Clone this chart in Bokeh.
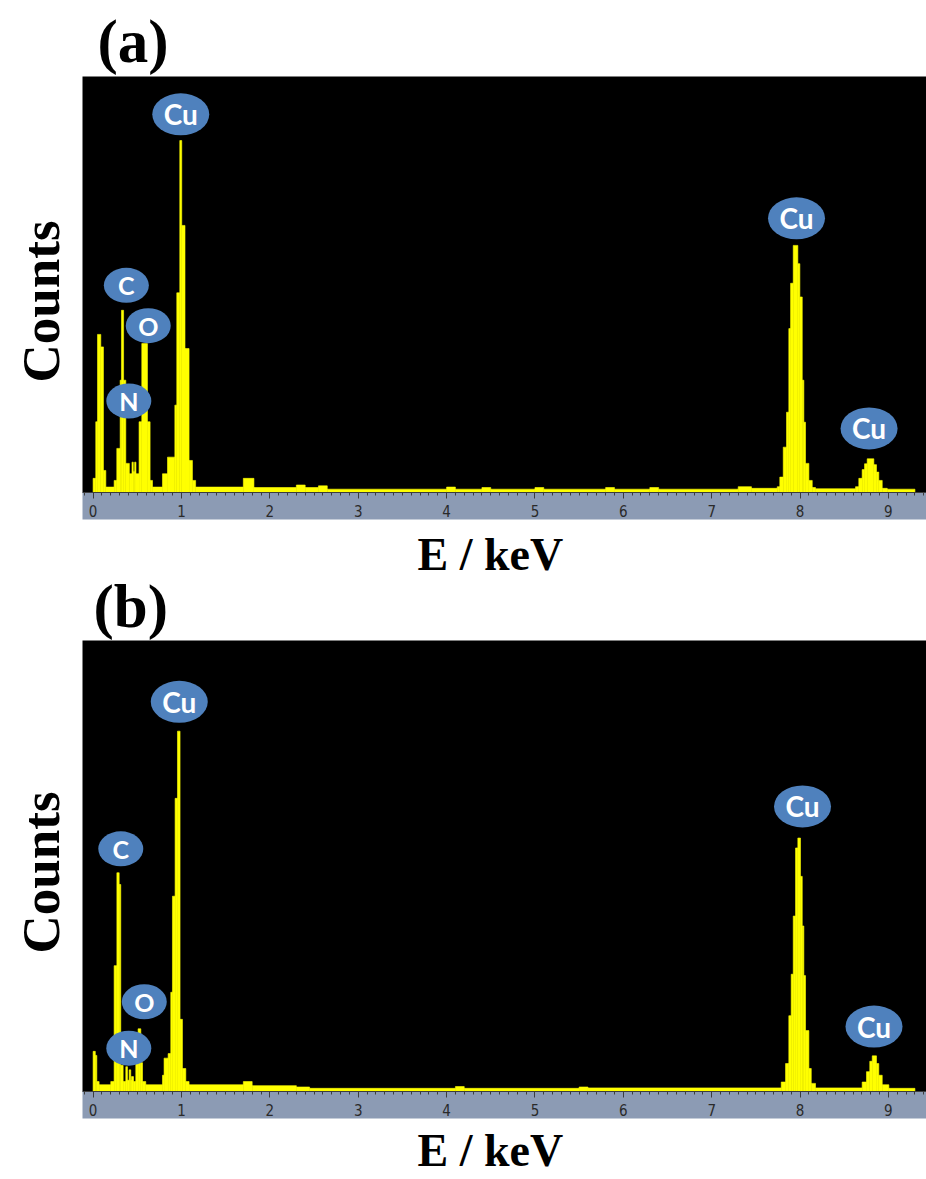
from bokeh.plotting import figure
from bokeh.layouts import column
from bokeh.models import Range1d, FixedTicker, Title, ColumnDataSource
from bokeh.core.properties import value
from bokeh.embed import file_html
from bokeh.resources import INLINE

# ---------------- data ----------------
# Panel (a): channel edges (keV) and counts (arbitrary units, 0..100 = plot height)
edges_a = [0.0, 0.03, 0.05, 0.087, 0.117, 0.144, 0.238, 0.268, 0.306, 0.321, 0.345,
           0.37, 0.41, 0.44, 0.455, 0.47, 0.485, 0.52, 0.551, 0.615, 0.645, 0.672,
           0.785, 0.842, 0.925, 0.947, 0.981, 1.003, 1.04, 1.086, 1.124, 1.16, 1.70,
           1.82, 2.30, 2.40, 2.55, 2.65, 4.00, 4.10, 4.40, 4.50, 5.00, 5.10, 5.80,
           5.90, 6.30, 6.40, 7.30, 7.45, 7.742, 7.771, 7.810, 7.847, 7.873, 7.893,
           7.923, 7.975, 7.998, 8.025, 8.043, 8.062, 8.100, 8.138, 8.175, 8.628,
           8.665, 8.703, 8.730, 8.760, 8.835, 8.865, 8.891, 8.930, 8.987, 9.30]
counts_a = [3.4, 17, 38, 35, 5.3, 1.3, 2.9, 10.6, 27, 43.8,
            27, 7, 4.5, 7.3, 5, 7.3, 4.5, 17, 35.8, 17, 2.9,
            1.3, 4.5, 8.5, 21, 48, 84.6, 64.2, 34.6, 7.7, 2.9, 1.3,
            3.4, 1.2, 1.8, 1.2, 1.6, 0.8, 1.3, 0.8, 1.2, 0.8, 1.2, 0.8,
            1.2, 0.8, 1.2, 0.8, 1.4, 1.0, 1.4, 3.7, 10.9, 19.3, 39.4,
            50.3, 59.4, 55, 47, 27, 16.9, 7, 2.9, 1.2, 0.9,
            1.4, 3.4, 5.5, 6.9, 8.1, 6.7, 4.9, 2.9, 1.0, 0.8]

# Panel (b)
edges_b = [0.0, 0.025, 0.042, 0.068, 0.20, 0.238, 0.269, 0.295, 0.313, 0.34, 0.37,
           0.389, 0.408, 0.426, 0.434, 0.457, 0.483, 0.509, 0.54, 0.559, 0.596,
           0.785, 0.803, 0.849, 0.879, 0.898, 0.928, 0.955, 0.984, 1.011, 1.049,
           1.086, 1.70, 1.80, 2.30, 2.45, 4.10, 4.20, 5.50, 5.60, 7.787, 7.836,
           7.873, 7.900, 7.923, 7.949, 7.975, 8.005, 8.025, 8.043, 8.062, 8.100,
           8.127, 8.175, 8.703, 8.752, 8.789, 8.817, 8.865, 8.891, 8.930, 9.005, 9.30]
counts_b = [8.9, 8.0, 2.2, 1.5, 2.2, 27.9, 48.5, 45.9, 5.8, 2.2,
            5.5, 2.5, 4.8, 2.5, 3.3, 2.2, 6.6, 13.9, 6.4, 2.2,
            1.5, 3.6, 7.4, 8.4, 22, 43.3, 65, 79.9, 16, 5.1,
            2.2, 1.5, 2.2, 1.3, 1.0, 0.7, 1.1, 0.7, 1.0, 0.8, 2.1,
            6.2, 16.8, 26, 38.9, 54, 56.2, 47.7, 36.7, 25.7, 13.5,
            5.1, 1.8, 0.8, 2.1, 4.4, 6.7, 7.9, 6.2, 3.6, 1.5, 0.7]

# Peak labels: element, energy (keV), counts
labels_a = ["Cu", "C", "O", "N", "Cu", "Cu"]
label_x_a = [0.992, 0.376, 0.624, 0.404, 7.960, 8.781]
label_y_a = [90.9, 49.8, 40.1, 22.0, 65.9, 15.4]

labels_b = ["Cu", "C", "O", "N", "Cu", "Cu"]
label_x_b = [0.975, 0.313, 0.579, 0.404, 8.028, 8.837]
label_y_b = [86.4, 53.8, 19.9, 9.6, 63.2, 14.4]

tick_values = [0, 1, 2, 3, 4, 5, 6, 7, 8, 9]
tick_labels = ["0", "1", "2", "3", "4", "5", "6", "7", "8", "9"]
panel_tags = ["(a)", "(b)"]
x_label = "E / keV"
y_label = "Counts"

SERIF = "Liberation Serif"


def serif_title(text, size, **kw):
    return Title(text=text, text_font=SERIF, text_font_size=size,
                 text_font_style="bold", text_color="#000000", **kw)


def make_panel(edges, counts, names, lx, ly, height, top_b, bottom_b,
               xlab_standoff, counts_offset):
    p = figure(width=926, height=height, output_backend="svg", toolbar_location=None,
               title=None,
               x_range=Range1d(-0.12, 9.431), y_range=Range1d(0, 100),
               y_axis_location=None,
               min_border_left=82, min_border_right=0,
               min_border_top=top_b, min_border_bottom=bottom_b)
    p.background_fill_color = "#000000"
    p.border_fill_color = "#ffffff"
    p.outline_line_color = None
    p.grid.visible = False

    # spectrum
    src = ColumnDataSource(dict(left=edges[:-1], right=edges[1:], top=counts))
    p.quad(left="left", right="right", bottom=0, top="top", source=src,
           fill_color="#ffff00", line_color="#ffff00", line_width=0.6)

    # x axis as the grey ruler strip
    ax = p.xaxis[0]
    ax.ticker = FixedTicker(ticks=tick_values,
                            minor_ticks=[t / 10 for t in range(-1, 95)])
    ax.major_label_overrides = {v: s for v, s in zip(tick_values, tick_labels)}
    ax.background_fill_color = "#8c9bb4"
    ax.axis_line_color = "#3c3c3c"
    ax.axis_line_width = 1
    ax.major_tick_in = 0
    ax.major_tick_out = 6
    ax.minor_tick_in = 0
    ax.minor_tick_out = 3
    ax.major_tick_line_color = "#3c3c3c"
    ax.minor_tick_line_color = "#3c3c3c"
    ax.major_label_standoff = 6
    ax.major_label_text_font = "Liberation Sans Narrow, DejaVu Sans Condensed, sans-serif"
    ax.major_label_text_font_size = "15px"
    ax.major_label_text_color = "#2a2a2a"

    p.add_layout(serif_title(x_label, "46px", align="left", offset=335,
                             standoff=xlab_standoff), "below")
    p.add_layout(serif_title(y_label, "53px", align="left", offset=counts_offset,
                             standoff=22, vertical_align="top"), "left")

    # element labels
    w = [57 if n == "Cu" else 45 for n in names]
    h = [42 if n == "Cu" else 35 for n in names]
    fs = ["28px" if n == "Cu" else "25px" for n in names]
    lsrc = ColumnDataSource(dict(x=lx, y=ly, w=w, h=h, t=names, fs=fs))
    p.ellipse(x="x", y="y", width="w", height="h", width_units="screen",
              height_units="screen", source=lsrc, fill_color="#4f81bd", line_color=None)
    p.text(x="x", y="y", text="t", source=lsrc, text_align="center",
           text_baseline="middle", text_color="#ffffff", text_font=value("Lato"),
           text_font_style="bold", text_font_size="fs")
    return p


pa = make_panel(edges_a, counts_a, labels_a, label_x_a, label_y_a,
                640, 76, 148, 14, 110)
pa.add_layout(serif_title(panel_tags[0], "61px", align="left", offset=15, standoff=4), "above")
pa.add_layout(serif_title(panel_tags[1], "61px", align="left", offset=11, standoff=-31), "below")

pb = make_panel(edges_b, counts_b, labels_b, label_x_b, label_y_b,
                539, 0, 86, 8, 138)

layout = column(pa, pb, spacing=0)
open("out.html", "w").write(file_html(layout, INLINE))
